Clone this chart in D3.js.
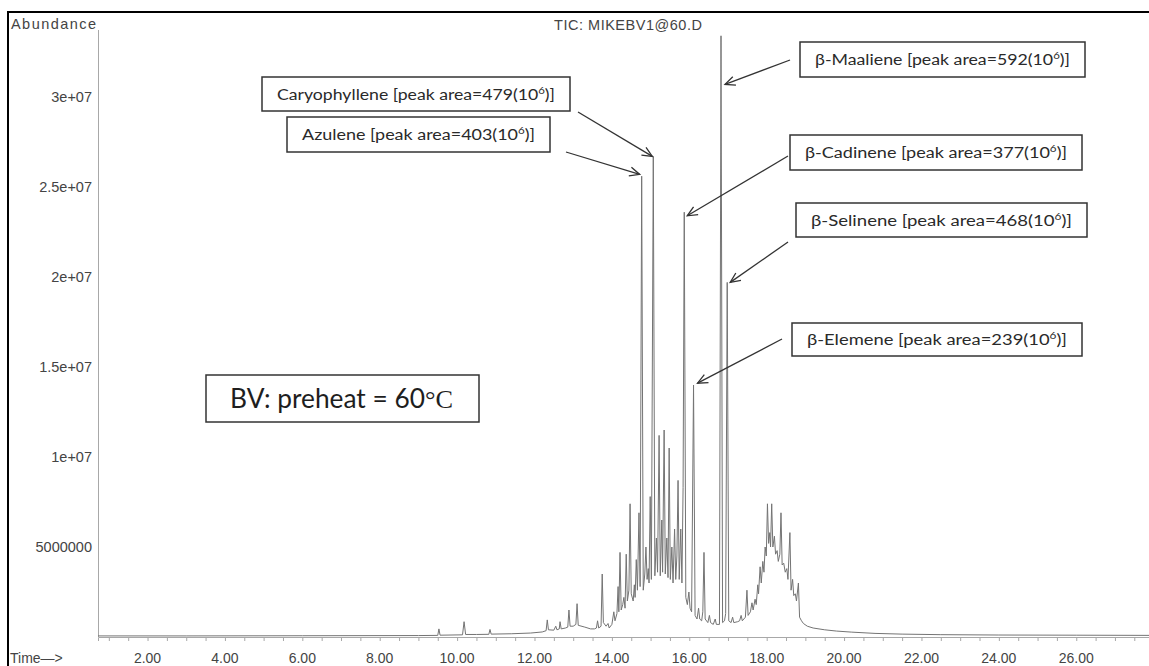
<!DOCTYPE html>
<html>
<head>
<meta charset="utf-8">
<script src="https://cdn.jsdelivr.net/npm/d3@7/dist/d3.min.js"></script>
<style>
  body { margin: 0; background: #fff; }
  svg { display: block; }
</style>
</head>
<body>
<div id="chart"></div>
<script>
// TIC trace, [retention time (min), abundance]
const ticEarly = [
  [0.72, 0.06e6], [3.0, 0.06e6], [6.0, 0.07e6], [9.0, 0.08e6],
  [9.50, 0.09e6], [9.53, 0.45e6], [9.56, 0.10e6],
  [10.14, 0.12e6], [10.18, 0.85e6], [10.22, 0.14e6],
  [10.50, 0.14e6], [10.82, 0.15e6], [10.85, 0.42e6], [10.88, 0.16e6],
  [11.40, 0.18e6], [11.90, 0.22e6], [12.20, 0.28e6],
  [12.30, 0.35e6], [12.33, 0.95e6], [12.36, 0.40e6],
  [12.50, 0.38e6], [12.55, 0.60e6], [12.58, 0.40e6],
  [12.64, 0.45e6], [12.66, 0.85e6], [12.69, 0.45e6],
  [12.80, 0.50e6], [12.86, 0.55e6], [12.89, 1.5e6], [12.92, 0.60e6],
  [13.00, 0.60e6], [13.07, 0.70e6], [13.10, 1.85e6], [13.13, 0.65e6],
  [13.30, 0.55e6], [13.45, 0.45e6]
];

const ticMain = [
  [13.55, 0.45e6], [13.60, 0.50e6], [13.63, 0.9e6], [13.66, 0.5e6],
  [13.72, 0.6e6], [13.75, 3.5e6], [13.78, 0.8e6],
  [13.85, 0.6e6], [13.90, 0.75e6], [13.93, 0.5e6],
  [14.00, 0.7e6], [14.05, 1.4e6], [14.08, 0.9e6],
  [14.13, 1.3e6], [14.16, 2.8e6], [14.18, 1.4e6],
  [14.21, 4.7e6], [14.24, 1.5e6], [14.28, 1.8e6], [14.31, 2.2e6], [14.34, 1.6e6],
  [14.37, 4.6e6], [14.40, 2.0e6], [14.44, 2.6e6], [14.47, 7.4e6], [14.50, 2.4e6],
  [14.55, 2.0e6], [14.58, 2.9e6], [14.60, 2.2e6], [14.63, 4.3e6], [14.66, 2.6e6],
  [14.70, 6.9e6], [14.73, 2.8e6], [14.77, 25.6e6], [14.81, 2.6e6],
  [14.85, 3.5e6], [14.88, 5.0e6], [14.91, 3.2e6], [14.94, 3.8e6], [14.96, 3.0e6],
  [14.99, 7.8e6], [15.02, 3.2e6], [15.07, 26.7e6], [15.11, 3.4e6],
  [15.15, 5.5e6], [15.18, 3.6e6], [15.22, 11.2e6], [15.25, 3.4e6],
  [15.29, 6.5e6], [15.31, 3.6e6], [15.35, 11.5e6], [15.38, 3.5e6],
  [15.42, 5.5e6], [15.45, 3.3e6], [15.48, 10.5e6], [15.51, 3.2e6],
  [15.55, 5.0e6], [15.58, 3.0e6], [15.62, 6.0e6], [15.65, 3.2e6],
  [15.68, 4.5e6], [15.71, 8.7e6], [15.74, 3.2e6], [15.78, 6.0e6], [15.81, 3.0e6],
  [15.84, 8.3e6], [15.87, 23.6e6], [15.91, 2.2e6],
  [15.95, 1.8e6], [15.99, 2.5e6], [16.02, 1.6e6], [16.06, 1.4e6],
  [16.11, 14.0e6], [16.15, 1.2e6], [16.20, 1.0e6], [16.24, 1.6e6], [16.27, 1.0e6],
  [16.32, 0.9e6], [16.35, 1.4e6], [16.38, 4.7e6], [16.41, 1.0e6],
  [16.48, 0.8e6], [16.52, 1.2e6], [16.55, 0.8e6], [16.62, 0.7e6],
  [16.67, 1.0e6], [16.70, 0.7e6], [16.78, 0.7e6],
  [16.82, 33.4e6], [16.86, 0.8e6], [16.91, 0.9e6], [16.94, 1.3e6],
  [16.98, 19.7e6], [17.02, 0.9e6], [17.08, 0.8e6], [17.12, 1.1e6], [17.15, 0.8e6]
];

const ticLate = [
  [17.25, 0.85e6], [17.30, 0.9e6], [17.34, 1.2e6], [17.37, 0.9e6],
  [17.45, 1.1e6], [17.49, 2.6e6], [17.52, 1.2e6], [17.58, 1.4e6], [17.62, 1.9e6],
  [17.65, 1.5e6], [17.70, 2.1e6], [17.73, 1.8e6], [17.77, 2.9e6], [17.79, 2.4e6],
  [17.83, 3.9e6], [17.86, 3.0e6], [17.90, 4.2e6], [17.93, 3.6e6], [17.96, 5.0e6],
  [17.99, 4.5e6], [18.02, 7.4e6], [18.05, 5.2e6], [18.08, 5.8e6], [18.10, 5.0e6],
  [18.13, 7.4e6], [18.16, 5.0e6], [18.20, 5.6e6], [18.23, 4.6e6], [18.27, 4.8e6],
  [18.30, 4.2e6], [18.34, 4.6e6], [18.37, 6.9e6], [18.40, 4.0e6], [18.44, 4.1e6],
  [18.48, 3.6e6], [18.52, 3.8e6], [18.55, 3.2e6], [18.60, 5.8e6], [18.63, 2.6e6],
  [18.67, 3.2e6], [18.70, 2.3e6], [18.74, 2.4e6], [18.77, 2.0e6], [18.82, 3.0e6],
  [18.85, 1.1e6], [18.90, 0.9e6], [18.95, 0.75e6], [19.05, 0.6e6], [19.20, 0.5e6],
  [19.50, 0.4e6], [19.80, 0.33e6], [20.20, 0.27e6], [20.80, 0.2e6], [21.50, 0.16e6],
  [22.50, 0.13e6], [24.00, 0.11e6], [26.00, 0.10e6], [27.88, 0.09e6]
];

const yTickValues = [5e6, 1e7, 1.5e7, 2e7, 2.5e7, 3e7];
const yTickLabels = ["5000000", "1e+07", "1.5e+07", "2e+07", "2.5e+07", "3e+07"];
const xTickValues = [2, 4, 6, 8, 10, 12, 14, 16, 18, 20, 22, 24, 26];

// annotated peaks
const compounds = ["\u03B2-Maaliene", "Caryophyllene", "Azulene", "\u03B2-Cadinene", "\u03B2-Selinene", "\u03B2-Elemene"];
const peakAreas = [592, 479, 403, 377, 468, 239];
const peakRt = [16.82, 15.07, 14.77, 15.87, 16.98, 16.11];
const arrowAbund = [30.7e6, 26.7e6, 25.7e6, 23.4e6, 19.7e6, 14.1e6];

// label box layout (px)
const boxLayout = [
  {x: 800, y: 42, w: 285, h: 35, sx: 790, sy: 60, dx: 4},
  {x: 262, y: 77, w: 308, h: 34, sx: 578, sy: 112, dx: -1},
  {x: 287, y: 117, w: 263, h: 35, sx: 566, sy: 152, dx: -2},
  {x: 790, y: 135, w: 292, h: 35, sx: 788, sy: 156, dx: 3},
  {x: 796, y: 203, w: 291, h: 34, sx: 788, sy: 242, dx: 3},
  {x: 792, y: 323, w: 290, h: 33, sx: 782, sy: 339, dx: 4}
];

const width = 1149, height = 666;
const plotLeft = 98, plotRight = 1149, plotTop = 25, plotBottom = 637;

const svg = d3.select("#chart").append("svg")
  .attr("width", width)
  .attr("height", height);

svg.append("rect").attr("width", width).attr("height", height).attr("fill", "#fff");

// window frame (left and top edges)
svg.append("line").attr("x1", 8).attr("x2", 8).attr("y1", 11).attr("y2", height)
  .attr("stroke", "#000").attr("stroke-width", 2);
svg.append("line").attr("x1", 7).attr("x2", width).attr("y1", 12).attr("y2", 12)
  .attr("stroke", "#000").attr("stroke-width", 2);

const x = d3.scaleLinear().domain([0.72, 27.88]).range([plotLeft, plotRight]);
const y = d3.scaleLinear().domain([0, 34e6]).range([plotBottom, plotTop]);

const axisFont = "'Liberation Sans', Arial, sans-serif";
const textGrey = "#444";

// y axis
svg.append("line")
  .attr("x1", plotLeft + 0.5).attr("x2", plotLeft + 0.5)
  .attr("y1", 30).attr("y2", plotBottom)
  .attr("stroke", "#a8a8a8");

svg.append("g")
  .selectAll("text")
  .data(yTickValues)
  .join("text")
  .attr("x", plotLeft - 6)
  .attr("y", d => y(d))
  .attr("dy", "0.35em")
  .attr("text-anchor", "end")
  .attr("font-family", axisFont)
  .attr("font-size", "14.5px")
  .attr("fill", textGrey)
  .text((d, i) => yTickLabels[i]);

// x axis
const xAxis = d3.axisBottom(x)
  .tickValues(d3.range(1, 28, 0.5))
  .tickSize(4)
  .tickFormat("");
const gx = svg.append("g")
  .attr("transform", `translate(0,${plotBottom})`)
  .call(xAxis);
gx.select(".domain").attr("stroke", "#a8a8a8");
gx.selectAll(".tick line").attr("stroke", "#a8a8a8");

svg.append("g")
  .selectAll("text")
  .data(xTickValues)
  .join("text")
  .attr("x", d => x(d))
  .attr("y", 658)
  .attr("dy", "0.35em")
  .attr("text-anchor", "middle")
  .attr("font-family", axisFont)
  .attr("font-size", "14px")
  .attr("fill", textGrey)
  .text(d => d.toFixed(2));

svg.append("text")
  .attr("x", 10).attr("y", 658).attr("dy", "0.35em")
  .attr("font-family", axisFont).attr("font-size", "14px")
  .attr("fill", textGrey)
  .text("Time\u2014>");

svg.append("text")
  .attr("x", 11).attr("y", 24).attr("dy", "0.35em")
  .attr("font-family", axisFont).attr("font-size", "14.5px")
  .attr("fill", textGrey)
  .attr("textLength", 85)
  .text("Abundance");

svg.append("text")
  .attr("x", 554).attr("y", 25).attr("dy", "0.35em")
  .attr("font-family", axisFont).attr("font-size", "14.5px")
  .attr("fill", textGrey)
  .attr("textLength", 148)
  .text("TIC: MIKEBV1@60.D");

// chromatogram trace
const trace = ticEarly.concat(ticMain, ticLate);
const line = d3.line()
  .x(d => x(d[0]))
  .y(d => y(d[1]));

svg.append("path")
  .datum(trace)
  .attr("d", line)
  .attr("fill", "none")
  .attr("stroke", "#747474")
  .attr("stroke-width", 1)
  .attr("stroke-linejoin", "round");

// arrowhead
svg.append("defs").append("marker")
  .attr("id", "arrowhead")
  .attr("viewBox", "-12 -6 14 12")
  .attr("refX", 0).attr("refY", 0)
  .attr("markerWidth", 14).attr("markerHeight", 12)
  .attr("markerUnits", "userSpaceOnUse")
  .attr("orient", "auto")
  .append("path")
  .attr("d", "M-10,-4.5 L0,0 L-10,4.5")
  .attr("fill", "none")
  .attr("stroke", "#333")
  .attr("stroke-width", 1.3);

const labelFont = "Lato, 'Open Sans', sans-serif";

compounds.forEach((name, i) => {
  const b = boxLayout[i];
  svg.append("line")
    .attr("x1", b.sx).attr("y1", b.sy)
    .attr("x2", x(peakRt[i]) + b.dx).attr("y2", y(arrowAbund[i]))
    .attr("stroke", "#333")
    .attr("stroke-width", 1.3)
    .attr("marker-end", "url(#arrowhead)");

  svg.append("rect")
    .attr("x", b.x).attr("y", b.y)
    .attr("width", b.w).attr("height", b.h)
    .attr("fill", "#fff")
    .attr("stroke", "#333")
    .attr("stroke-width", 1.5);

  const t = svg.append("text")
    .attr("x", b.x + b.w / 2)
    .attr("y", b.y + b.h / 2 + 5.5)
    .attr("text-anchor", "middle")
    .attr("font-family", labelFont)
    .attr("font-size", "15.5px")
    .attr("fill", "#2a2a2a")
    .attr("textLength", b.w - 30)
    .attr("lengthAdjust", "spacingAndGlyphs");
  t.append("tspan").text(`${name} [peak area=${peakAreas[i]}(10`);
  t.append("tspan").attr("dy", -6).attr("font-size", "10px").text("6");
  t.append("tspan").attr("dy", 6).text(")]");
});

// condition box
const bv = {x: 206, y: 375, w: 273, h: 47};
svg.append("rect")
  .attr("x", bv.x).attr("y", bv.y)
  .attr("width", bv.w).attr("height", bv.h)
  .attr("fill", "#fff")
  .attr("stroke", "#333")
  .attr("stroke-width", 1.5);

const bvText = svg.append("text")
  .attr("x", bv.x + 24)
  .attr("y", bv.y + 33)
  .attr("font-family", labelFont)
  .attr("font-size", "26px")
  .attr("fill", "#1e1e1e")
  .attr("textLength", 223)
  .attr("lengthAdjust", "spacingAndGlyphs");
bvText.append("tspan").text("BV: preheat = 60");
bvText.append("tspan").attr("font-family", "'Liberation Serif', 'Times New Roman', serif").text("\u00B0C");
</script>
</body>
</html>
